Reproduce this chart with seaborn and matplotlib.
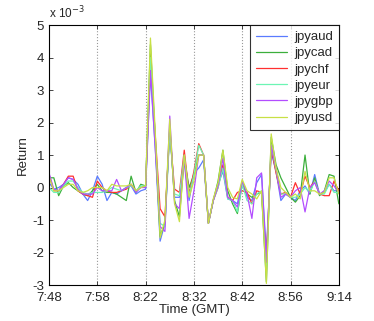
import numpy as np
import pandas as pd
import matplotlib
matplotlib.use('Agg')
import matplotlib.pyplot as plt
import seaborn as sns

# Returns (in units of 1e-3) around the event, one value per minute step
tick_labels = ['7:48', '7:58', '8:22', '8:32', '8:42', '8:56', '9:14']
tick_pos = [0, 10, 20, 30, 40, 50, 60]
grid_pos = [10, 20, 30, 40, 50]

jpyaud = [0.15, -0.05, 0.0, 0.1, 0.3, 0.25, 0.1, -0.2, -0.4, -0.1,
          0.35, 0.1, -0.4, -0.15, -0.2, -0.1, 0.0, 0.05, -0.2, -0.1,
          -0.05, 3.5, 1.2, -1.65, -1.1, 1.8, -0.3, -0.3, 0.8, -0.4,
          0.45, 0.6, 0.85, -1.1, -0.4, 0.1, 0.5, -0.35, -0.4, -0.5,
          0.2, -0.3, -0.4, 0.15, 0.4, -2.0, 1.1, 0.5, -0.4, -0.2,
          -0.3, -0.4, -0.1, 0.05, -0.2, 0.4, -0.2, -0.15, 0.1, -0.1,
          -0.1]
jpycad = [0.3, 0.3, -0.25, 0.05, 0.15, 0.0, -0.1, -0.2, -0.25, -0.1,
          0.1, -0.1, -0.15, -0.15, -0.2, -0.3, -0.4, 0.35, -0.15, 0.1,
          0.05, 4.4, 1.5, -1.5, -1.1, 1.9, -0.4, -0.9, 0.9, 0.0,
          0.4, 1.0, 1.0, -1.1, -0.4, 0.2, 1.15, -0.1, -0.5, -0.8,
          0.1, -0.2, -0.3, -0.2, -0.15, -2.9, 1.55, 0.7, 0.3, 0.0,
          -0.3, -0.45, -0.25, 1.0, -0.2, 0.3, -0.25, -0.1, 0.4, 0.35,
          -0.5]
jpychf = [0.4, -0.1, -0.1, 0.1, 0.35, 0.35, -0.1, -0.2, -0.25, -0.3,
          0.2, 0.0, -0.1, -0.15, -0.15, -0.1, -0.05, 0.1, -0.1, 0.0,
          0.05, 3.9, 1.6, -0.65, -0.9, 1.7, -0.05, -0.15, 1.15, -0.2,
          0.5, 1.35, 1.0, -1.1, -0.4, 0.0, 0.7, -0.3, -0.4, -0.15,
          -0.1, -0.15, -0.5, -0.1, -0.15, -2.2, 1.2, 0.45, -0.2, -0.15,
          -0.3, 0.15, -0.2, 0.35, 0.0, 0.2, -0.2, -0.25, -0.25, 0.2,
          -0.1]
jpyeur = [0.0, -0.15, -0.15, 0.05, 0.2, 0.2, 0.0, -0.15, -0.2, -0.15,
          -0.15, -0.15, -0.1, 0.0, -0.05, -0.1, 0.0, 0.05, -0.1, 0.05,
          0.05, 4.0, 1.5, -1.1, -1.2, 1.7, -0.2, -0.25, 1.0, -0.25,
          0.4, 1.3, 1.0, -1.1, -0.4, 0.0, 0.6, -0.35, -0.4, -0.75,
          0.1, -0.4, -0.5, -0.2, -0.1, -2.5, 1.3, 0.55, -0.2, -0.2,
          -0.3, -0.3, -0.2, 0.0, -0.15, 0.2, -0.2, -0.2, 0.1, -0.15,
          -0.15]
jpygbp = [0.45, -0.05, -0.1, 0.1, 0.3, 0.25, -0.05, -0.2, -0.2, -0.2,
          0.0, -0.1, -0.1, -0.1, 0.25, -0.1, 0.0, 0.1, -0.15, 0.0,
          0.0, 3.6, 1.2, -1.2, -1.35, 2.2, -0.5, -0.65, 0.9, -0.95,
          -0.1, 1.0, 1.0, -1.1, -0.4, 0.05, 0.9, -0.3, -0.4, -0.6,
          0.2, -0.2, -0.95, 0.3, 0.45, -2.3, 1.3, 0.6, -0.3, -0.2,
          -0.3, -0.1, 0.0, -0.75, 0.0, 0.15, -0.2, -0.1, 0.2, 0.05,
          -0.15]
jpyusd = [0.35, -0.1, -0.1, 0.0, 0.1, 0.1, -0.1, -0.15, -0.1, 0.0,
          0.0, 0.0, -0.1, 0.1, 0.05, 0.05, 0.05, 0.1, -0.1, 0.0,
          0.05, 4.6, 1.7, -1.55, -1.0, 2.1, -0.5, -1.05, 1.0, -0.3,
          0.2, 1.0, 1.0, -1.1, -0.35, 0.15, 1.15, 0.0, -0.3, -0.35,
          0.25, -0.1, -0.2, -0.35, -0.1, -2.95, 1.65, 0.6, 0.0, -0.15,
          -0.3, -0.2, -0.35, 0.5, -0.1, -0.1, -0.2, -0.15, 0.3, 0.3,
          -0.2]

series = {'jpyaud': jpyaud, 'jpycad': jpycad, 'jpychf': jpychf,
          'jpyeur': jpyeur, 'jpygbp': jpygbp, 'jpyusd': jpyusd}
colors = ['#5a7bff', '#3caf3c', '#ff3030', '#6cf5b4', '#b34dff', '#c8e045']

rows = []
for name, vals in series.items():
    for i, v in enumerate(vals):
        rows.append((i, v * 1e-3, name))
df = pd.DataFrame(rows, columns=['step', 'ret', 'pair'])

sns.set_style('white')
plt.rcParams['font.family'] = ['Liberation Sans', 'DejaVu Sans']
plt.rcParams['font.size'] = 9.5

fig = plt.figure(figsize=(3.74, 3.21), dpi=100)
ax = fig.add_axes([0.131, 0.112, 0.775, 0.81])

for g in grid_pos:
    ax.axvline(g, color='#999999', linestyle=':', linewidth=0.8, zorder=0)

sns.lineplot(data=df, x='step', y='ret', hue='pair', palette=colors,
             linewidth=0.9, ax=ax, legend=True)

ax.set_xlim(0, 60)
ax.set_ylim(-3e-3, 5e-3)
ax.set_xticks(tick_pos)
ax.set_xticklabels(tick_labels)
ax.set_yticks(np.arange(-3, 6) * 1e-3)
ax.set_yticklabels([str(v) for v in range(-3, 6)])
ax.tick_params(direction='in', length=3, top=True, right=True,
               bottom=True, left=True, labelsize=9.5, width=0.6)
ax.tick_params(axis='x', pad=5)
for s in ax.spines.values():
    s.set_color('black')
    s.set_linewidth(0.8)
ax.set_xlabel('Time (GMT)', fontsize=9.5, labelpad=0)
ax.set_ylabel('Return', fontsize=9.5, labelpad=2)
ax.text(0.0, 1.015, r'x 10$^{-3}$', transform=ax.transAxes, fontsize=8.5,
        ha='left', va='bottom')

leg = ax.legend(loc='upper right', frameon=True, fancybox=False,
                handlelength=2.4, fontsize=9.5, borderaxespad=0.0,
                labelspacing=0.3, handletextpad=0.5, borderpad=0.45)
leg.get_frame().set_edgecolor('black')
leg.get_frame().set_linewidth(0.8)

fig.savefig('out.png', dpi=100)
